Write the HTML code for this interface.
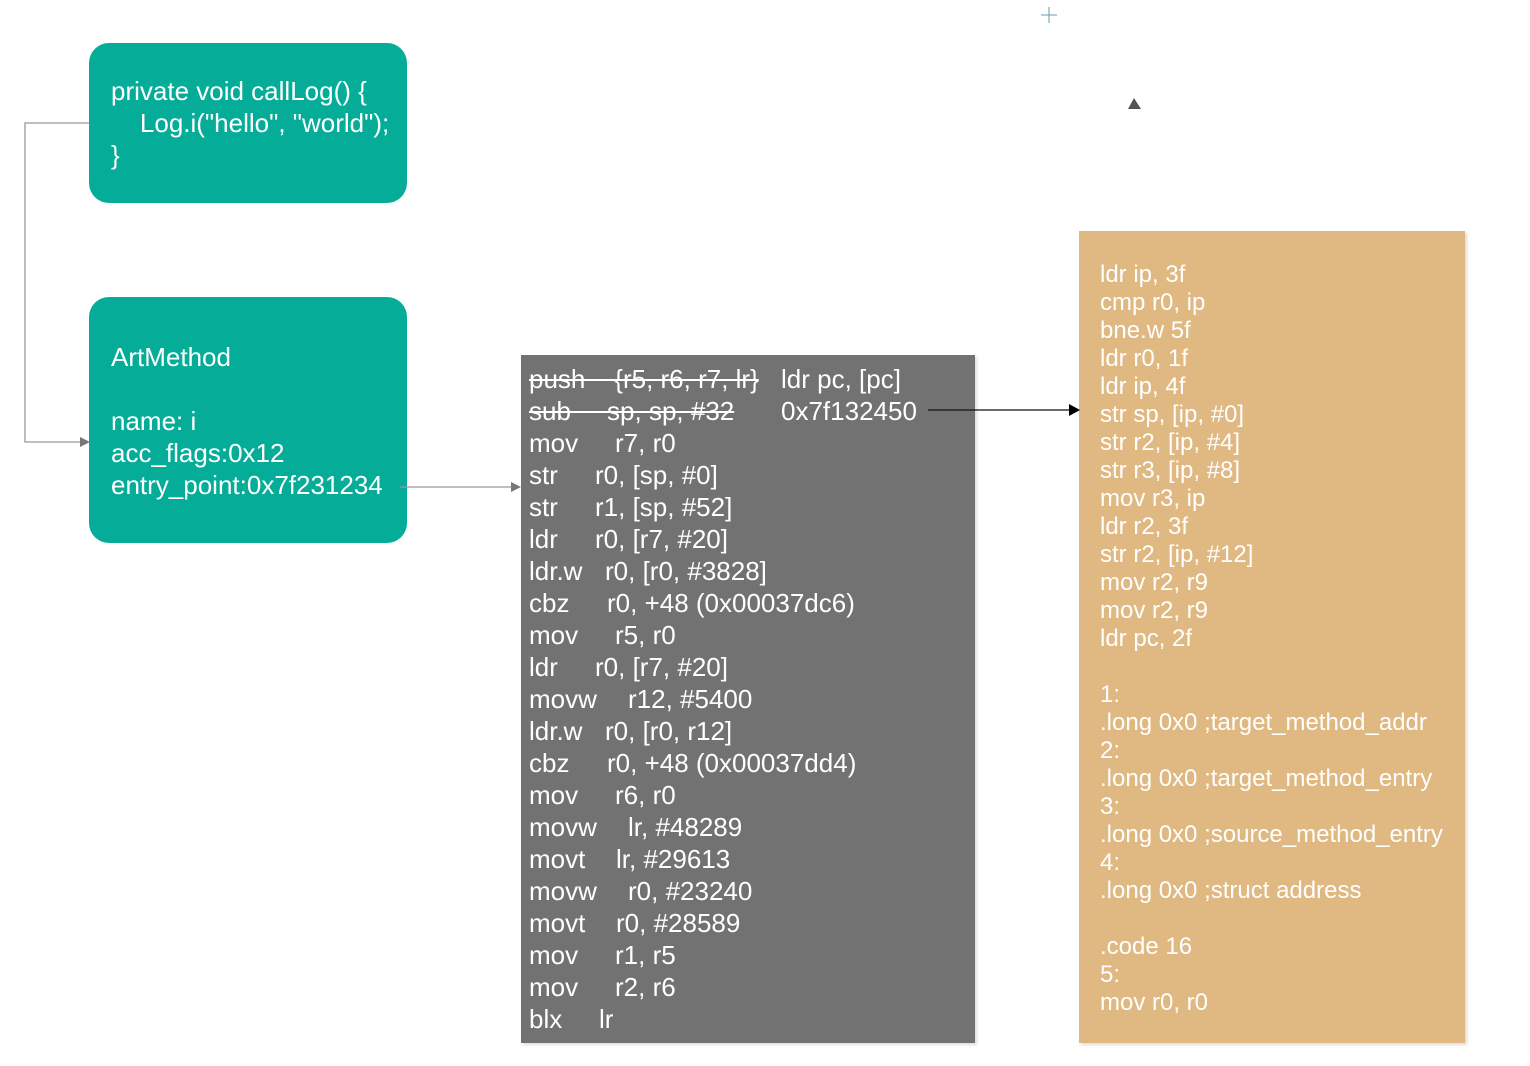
<!DOCTYPE html>
<html><head><style>
body{margin:0;width:1530px;height:1066px;background:#fff;position:relative;overflow:hidden;font-family:"Liberation Sans",Arial,sans-serif;}
.b{position:absolute;}
.t{position:absolute;white-space:pre;color:#fff;line-height:1;}
.g{font-size:26px;}
.o{font-size:24px;color:#fff;}
.s{text-decoration:line-through;}
</style></head><body>
<div class="b" style="left:89px;top:43px;width:318px;height:160px;background:#05ad99;border-radius:20px"></div>
<div class="b" style="left:89px;top:297px;width:318px;height:246px;background:#05ad99;border-radius:20px"></div>
<div class="b" style="left:521px;top:355px;width:454px;height:688px;background:#727272;box-shadow:2px 2px 3px #ddd"></div>
<div class="b" style="left:1079px;top:231px;width:386px;height:812px;background:#e0b882;box-shadow:2px 2px 3px #ddd"></div>
<svg class="b" style="left:0;top:0;z-index:2" width="1530" height="1066">
<polyline points="89,123 25,123 25,442 84,442" fill="none" stroke="#999" stroke-width="1.3"/>
<polygon points="90,442 80,437 80,447" fill="#777"/>
<line x1="400" y1="487" x2="514" y2="487" stroke="#999" stroke-width="1.3"/>
<polygon points="521,487 511,482 511,492" fill="#777"/>
<line x1="928" y1="410" x2="1070" y2="410" stroke="#111" stroke-width="1.3"/>
<polygon points="1080,410 1069,404 1069,416" fill="#000"/>
<polygon points="1134,98 1128,109 1141,109" fill="#555"/>
<line x1="1041" y1="15" x2="1057" y2="15" stroke="#6a9ab0" stroke-width="1"/>
<line x1="1049" y1="7" x2="1049" y2="23" stroke="#6a9ab0" stroke-width="1"/>
</svg>

<div class="t g" style="left:111px;top:78px">private void callLog() {</div>
<div class="t g" style="left:111px;top:110px">    Log.i("hello", "world");</div>
<div class="t g" style="left:111px;top:142px">}</div>
<div class="t g" style="left:111px;top:344px">ArtMethod</div>
<div class="t g" style="left:111px;top:408px">name: i</div>
<div class="t g" style="left:111px;top:440px">acc_flags:0x12</div>
<div class="t g" style="left:111px;top:472px">entry_point:0x7f231234</div>

<div class="t g s" style="left:529px;top:366px">push    {r5, r6, r7, lr}</div>
<div class="t g" style="left:781px;top:366px">ldr pc, [pc]</div>
<div class="t g s" style="left:529px;top:398px">sub     sp, sp, #32</div>
<div class="t g" style="left:781px;top:398px">0x7f132450</div>

<div class="t g" style="left:529px;top:430px">mov</div><div class="t g" style="left:615px;top:430px">r7, r0</div>
<div class="t g" style="left:529px;top:462px">str</div><div class="t g" style="left:595px;top:462px">r0, [sp, #0]</div>
<div class="t g" style="left:529px;top:494px">str</div><div class="t g" style="left:595px;top:494px">r1, [sp, #52]</div>
<div class="t g" style="left:529px;top:526px">ldr</div><div class="t g" style="left:595px;top:526px">r0, [r7, #20]</div>
<div class="t g" style="left:529px;top:558px">ldr.w</div><div class="t g" style="left:605px;top:558px">r0, [r0, #3828]</div>
<div class="t g" style="left:529px;top:590px">cbz</div><div class="t g" style="left:607px;top:590px">r0, +48 (0x00037dc6)</div>
<div class="t g" style="left:529px;top:622px">mov</div><div class="t g" style="left:615px;top:622px">r5, r0</div>
<div class="t g" style="left:529px;top:654px">ldr</div><div class="t g" style="left:595px;top:654px">r0, [r7, #20]</div>
<div class="t g" style="left:529px;top:686px">movw</div><div class="t g" style="left:628px;top:686px">r12, #5400</div>
<div class="t g" style="left:529px;top:718px">ldr.w</div><div class="t g" style="left:605px;top:718px">r0, [r0, r12]</div>
<div class="t g" style="left:529px;top:750px">cbz</div><div class="t g" style="left:607px;top:750px">r0, +48 (0x00037dd4)</div>
<div class="t g" style="left:529px;top:782px">mov</div><div class="t g" style="left:615px;top:782px">r6, r0</div>
<div class="t g" style="left:529px;top:814px">movw</div><div class="t g" style="left:628px;top:814px">lr, #48289</div>
<div class="t g" style="left:529px;top:846px">movt</div><div class="t g" style="left:616px;top:846px">lr, #29613</div>
<div class="t g" style="left:529px;top:878px">movw</div><div class="t g" style="left:628px;top:878px">r0, #23240</div>
<div class="t g" style="left:529px;top:910px">movt</div><div class="t g" style="left:616px;top:910px">r0, #28589</div>
<div class="t g" style="left:529px;top:942px">mov</div><div class="t g" style="left:615px;top:942px">r1, r5</div>
<div class="t g" style="left:529px;top:974px">mov</div><div class="t g" style="left:615px;top:974px">r2, r6</div>
<div class="t g" style="left:529px;top:1006px">blx</div><div class="t g" style="left:599px;top:1006px">lr</div>

<div class="t o" style="left:1100px;top:261px;line-height:28px">ldr ip, 3f
cmp r0, ip
bne.w 5f
ldr r0, 1f
ldr ip, 4f
str sp, [ip, #0]
str r2, [ip, #4]
str r3, [ip, #8]
mov r3, ip
ldr r2, 3f
str r2, [ip, #12]
mov r2, r9
mov r2, r9
ldr pc, 2f

1:
.long 0x0 ;target_method_addr
2:
.long 0x0 ;target_method_entry
3:
.long 0x0 ;source_method_entry
4:
.long 0x0 ;struct address

.code 16
5:
mov r0, r0</div>
</body></html>
